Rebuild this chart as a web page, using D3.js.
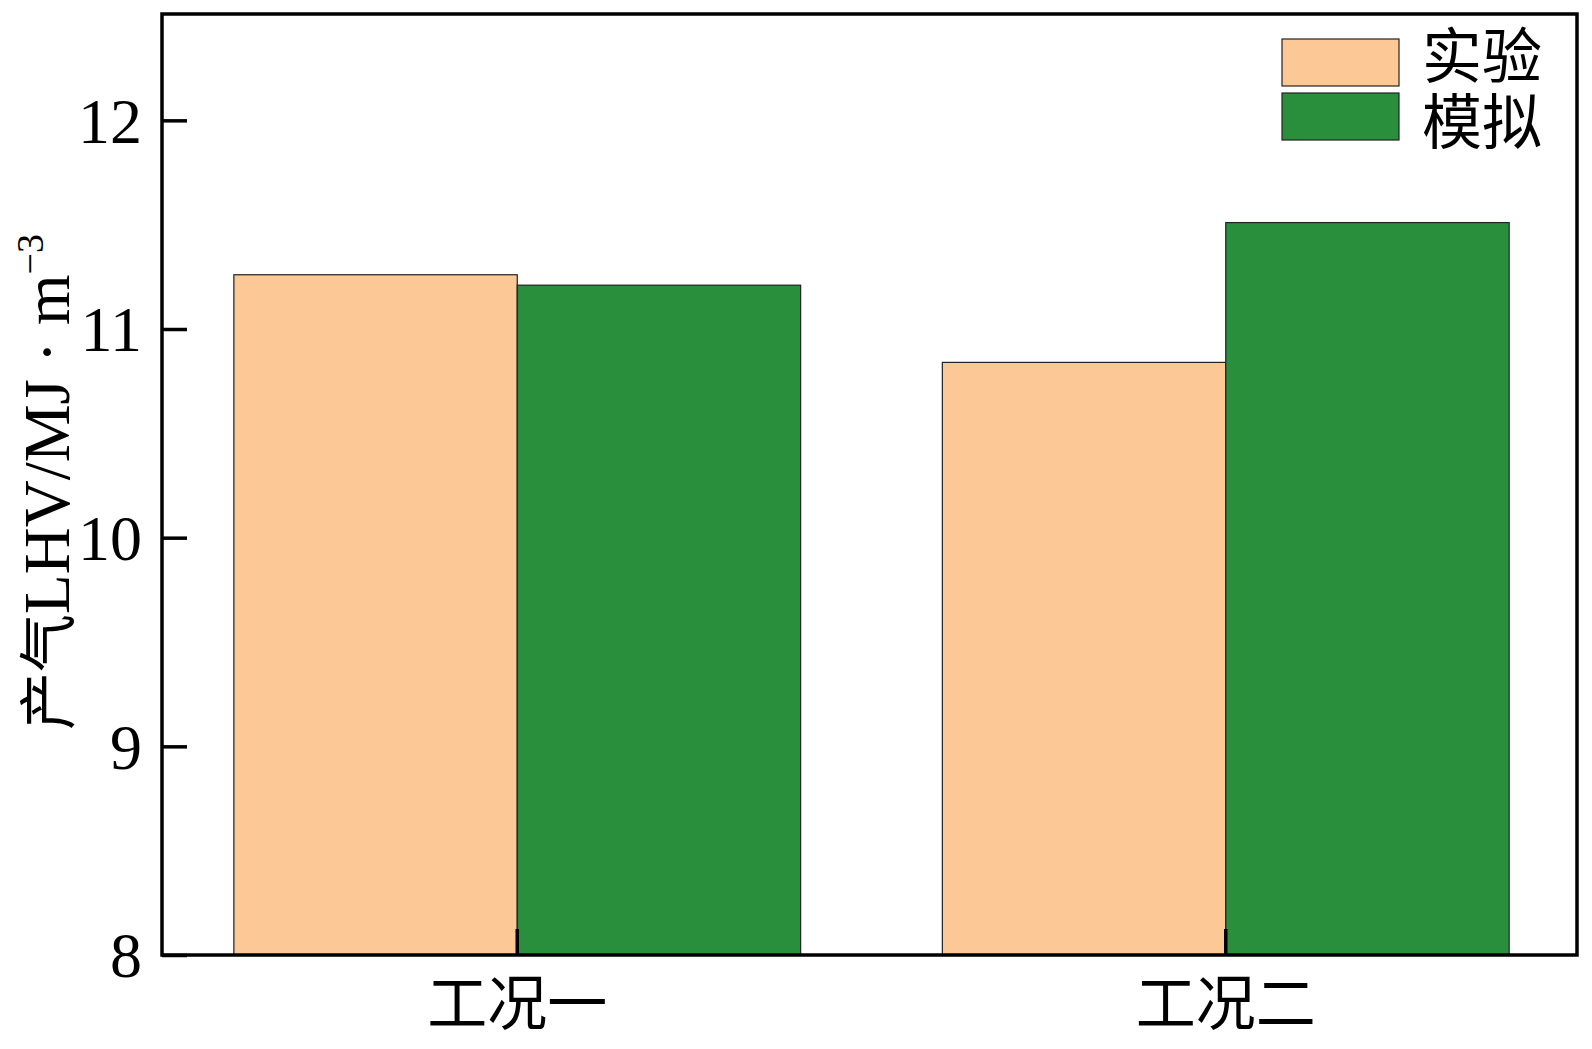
<!DOCTYPE html>
<html>
<head>
<meta charset="utf-8">
<script src="https://cdn.jsdelivr.net/npm/d3@7"></script>
<style>
  html, body { margin: 0; padding: 0; background: #fff; }
  svg { display: block; }
</style>
</head>
<body>
<svg id="chart" width="1592" height="1049"></svg>
<script>
const categories = ["工况一", "工况二"];
const seriesNames = ["实验", "模拟"];
const experiment = [11.26, 10.84];
const simulation = [11.21, 11.51];
const yTicks = [8, 9, 10, 11, 12];
const yDomain = [8, 12.5];
const colors = ["#FCC896", "#2A8F3C"];

const W = 1592, H = 1049;
const margin = { left: 162, right: 15, top: 14, bottom: 94 };
const iw = W - margin.left - margin.right;
const ih = H - margin.top - margin.bottom;
const fontFam = "'Liberation Serif', 'Times New Roman', 'Noto Sans CJK SC', serif";
const cjkFam = "'Noto Sans CJK SC', 'Liberation Serif', serif";

const svg = d3.select("#chart");
const g = svg.append("g").attr("transform", `translate(${margin.left},${margin.top})`);

const x0 = d3.scaleBand().domain(categories).range([1, iw + 3]).padding(0);
const x1 = d3.scaleBand().domain(seriesNames)
  .range([x0.bandwidth() * 0.1, x0.bandwidth() * 0.9]).padding(0);
const y = d3.scaleLinear().domain(yDomain).range([ih, 2]);

const data = categories.map((c, i) => ({ cat: c, vals: [experiment[i], simulation[i]] }));

// bars
const groups = g.selectAll("g.grp").data(data).join("g")
  .attr("class", "grp")
  .attr("transform", d => `translate(${x0(d.cat)},0)`);
groups.selectAll("rect").data(d => d.vals.map((v, k) => ({ k, v }))).join("rect")
  .attr("x", d => x1(seriesNames[d.k]))
  .attr("width", x1.bandwidth())
  .attr("y", d => y(d.v))
  .attr("height", d => y(yDomain[0]) - y(d.v))
  .attr("fill", d => colors[d.k])
  .attr("stroke", "#222")
  .attr("stroke-width", 1.2);

// y axis
const yAxis = g.append("g")
  .call(d3.axisLeft(y).tickValues(yTicks).tickFormat(d3.format("d")).tickSize(-25).tickPadding(20));
yAxis.select(".domain").remove();
yAxis.selectAll(".tick line").attr("stroke", "#000").attr("stroke-width", 3.5);
yAxis.selectAll(".tick text")
  .attr("fill", "#000")
  .style("font-family", fontFam)
  .style("font-size", "64px")
  .attr("dy", "0.34em");

// x axis
const xAxis = g.append("g").attr("transform", `translate(0,${ih})`)
  .call(d3.axisBottom(x0).tickSize(-26).tickPadding(27));
xAxis.select(".domain").remove();
xAxis.selectAll(".tick line").attr("stroke", "#000").attr("stroke-width", 3.5);
xAxis.selectAll(".tick text")
  .attr("fill", "#000")
  .style("font-family", cjkFam)
  .style("font-size", "60px");

// frame
g.append("rect")
  .attr("x", 0).attr("y", 0).attr("width", iw).attr("height", ih)
  .attr("fill", "none").attr("stroke", "#000").attr("stroke-width", 3.5);

// y label
const yl = svg.append("text")
  .attr("transform", `translate(69,482) rotate(-90)`)
  .attr("text-anchor", "middle")
  .style("font-family", fontFam)
  .style("font-size", "65px")
  .attr("fill", "#000");
yl.append("tspan").style("font-family", cjkFam).style("font-size", "58px").text("产气");
yl.append("tspan").text("LHV/MJ · m");
yl.append("tspan").attr("dy", -26).style("font-size", "38px").text("−3");

// legend
const legend = svg.append("g");
const lx = 1282, ly = 39, sw = 117, sh = 47, gap = 54;
seriesNames.forEach((name, i) => {
  legend.append("rect")
    .attr("x", lx).attr("y", ly + i * gap)
    .attr("width", sw).attr("height", sh)
    .attr("fill", colors[i]).attr("stroke", "#222").attr("stroke-width", 1.2);
});
const lt = legend.append("text")
  .style("font-family", cjkFam)
  .style("font-size", "60px")
  .attr("fill", "#000");
seriesNames.forEach((name, i) => {
  lt.append("tspan")
    .attr("x", 1422).attr("y", 78 + i * 66)
    .text(name);
});
</script>
</body>
</html>
